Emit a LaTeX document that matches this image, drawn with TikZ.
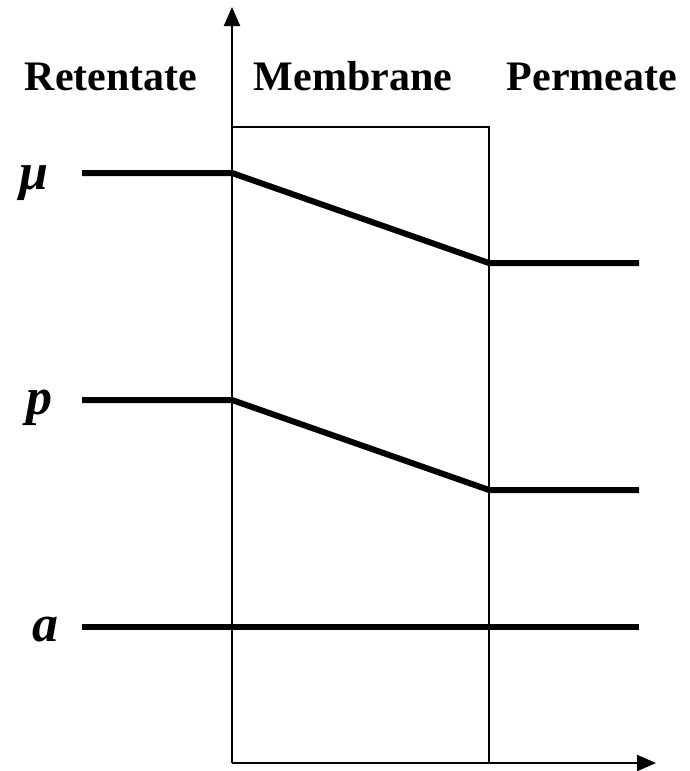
\documentclass[tikz,border=0pt]{standalone}
\usepackage{fontspec}
\setmainfont{Liberation Serif}
\usetikzlibrary{arrows.meta}

\tikzset{
  curve/.style={line width=6pt},
  frame/.style={line width=2pt},
  axis/.style={line width=2pt, -{Triangle[length=19pt,width=16pt]}},
  head/.style={font=\fontsize{42}{46}\selectfont\bfseries, anchor=base},
  qty/.style={font=\fontsize{52}{56}\selectfont\bfseries\itshape, anchor=base}
}

\begin{document}
\begin{tikzpicture}[x=1pt, y=-1pt]
    \useasboundingbox (0,0) rectangle (690,771);
    %--- Akser og membran ---
    \coordinate (O) at (232,763);
    \coordinate (ytop) at (232,7);
    \coordinate (xend) at (656,763);
    \coordinate (mtl) at (232,127);
    \coordinate (mtr) at (489,127);
    \coordinate (mbr) at (489,763);
    \draw[frame] (mtl) -- (mtr) -- (mbr);
    \draw[axis] (O) -- (ytop);
    \draw[axis] (O) -- (xend);
    %--- Overskrifter ---
    \node[head] (ret) at (111,90){Retentate};
    \node[head] (mem) at (353,90){Membrane};
    \node[head] (per) at (592,90){Permeate};
    %--- Kjemisk potensial ---
    \node[qty] (mu) at (34,189){μ};
    \coordinate (mu1) at (82,173);
    \coordinate (mu2) at (232,173);
    \coordinate (mu3) at (489,263);
    \coordinate (mu4) at (639,263);
    \draw[curve] (mu1) -- (mu2) -- (mu3) -- (mu4);
    %--- Trykk ---
    \node[qty] (p) at (39,414){p};
    \coordinate (p1) at (82,400);
    \coordinate (p2) at (232,400);
    \coordinate (p3) at (489,490);
    \coordinate (p4) at (639,490);
    \draw[curve] (p1) -- (p2) -- (p3) -- (p4);
    %--- Aktivitet ---
    \node[qty] (a) at (45,641){a};
    \coordinate (a1) at (82,627);
    \coordinate (a2) at (639,627);
    \draw[curve] (a1) -- (a2);
  \end{tikzpicture}
\end{document}
